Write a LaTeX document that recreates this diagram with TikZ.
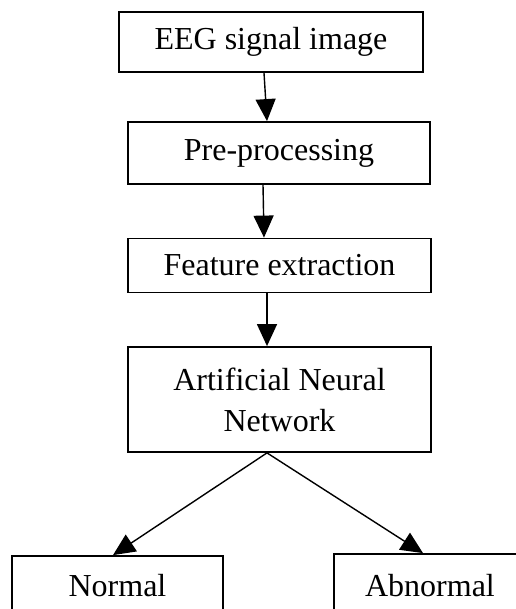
\documentclass[tikz,border=0pt]{standalone}
\usepackage{fontspec}
\setmainfont{Liberation Serif}
\usetikzlibrary{arrows.meta}
\begin{document}
\begin{tikzpicture}[x=1pt,y=-1pt,
  box/.style={draw=black,line width=1.8pt,rectangle,inner sep=0pt,align=center,
    font=\fontsize{32}{41}\selectfont},
  arr/.style={line width=1.4pt,-{Triangle[length=22pt,width=20pt]}}]
\useasboundingbox (0,0) rectangle (515,609);
\node[box,minimum width=304pt,minimum height=60pt] (eeg) at (271,42) {EEG signal image};
\node[box,minimum width=302pt,minimum height=62pt] (pre) at (279,153) {Pre-processing};
\node[box,minimum width=303pt,minimum height=54pt] (feat) at (279.5,265.5) {Feature extraction};
\node[box,minimum width=303pt,minimum height=105pt] (ann) at (279.5,399.5) {Artificial Neural\\Network};
\node[box,minimum width=211pt,minimum height=60pt] (norm) at (117.5,586) {Normal};
\node[box,minimum width=192pt,minimum height=64pt] (abn) at (430,586) {Abnormal};
\draw[arr] ([xshift=-7pt]eeg.south) -- ([xshift=-12pt]pre.north);
\draw[arr] ([xshift=-16pt]pre.south) -- ([xshift=-15.5pt]feat.north);
\draw[arr] ([xshift=-12.5pt]feat.south) -- ([xshift=-12.5pt]ann.north);
\draw[arr] ([xshift=-12.5pt]ann.south) -- ([xshift=-4.5pt]norm.north);
\draw[arr] ([xshift=-12.5pt]ann.south) -- ([xshift=-7pt]abn.north);
\end{tikzpicture}
\end{document}
